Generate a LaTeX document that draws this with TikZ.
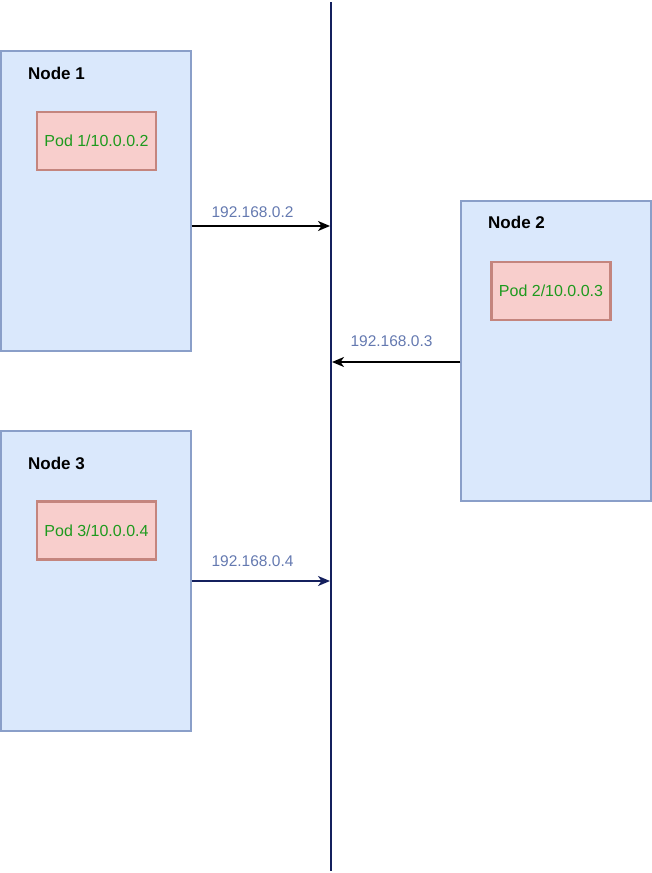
\documentclass[tikz,border=0pt]{standalone}
\usepackage{fontspec}
\setmainfont{Liberation Sans}
\usetikzlibrary{arrows.meta}
\definecolor{nodefill}{HTML}{DAE8FC}
\definecolor{nodeline}{HTML}{8A9FC9}
\definecolor{podfill}{HTML}{F8CECC}
\definecolor{podline}{HTML}{C4857E}
\definecolor{podtext}{HTML}{1E9A1E}
\definecolor{iptext}{HTML}{6479B0}
\definecolor{busline}{HTML}{14205E}

\tikzset{
  hostbox/.style={draw=nodeline,fill=nodefill,line width=1.3pt,minimum width=190pt,minimum height=300pt,inner sep=0pt},
  podbox/.style={draw=podline,fill=podfill,line width=2.7pt,minimum width=119pt,minimum height=58pt,inner sep=0pt,
    text=podtext,font=\fontsize{16}{19}\selectfont},
  hostlabel/.style={anchor=west,inner sep=0pt,font=\fontsize{17}{20}\selectfont\bfseries},
  iplabel/.style={text=iptext,inner sep=0pt,font=\fontsize{15.5}{18}\selectfont},
  link/.style={line width=1.7pt,-{Stealth[length=12pt,width=10pt,inset=3.5pt]}}
}

\begin{document}
\begin{tikzpicture}[x=1pt,y=-1pt]

\useasboundingbox (0,0) rectangle (652,873);

\node[hostbox] (node1) at (96,201) {};
\node[hostbox] (node2) at (556,351) {};
\node[hostbox] (node3) at (96,581) {};

\node[hostlabel] (lab1) at (28,73) {Node 1};
\node[hostlabel] (lab2) at (488,222) {Node 2};
\node[hostlabel] (lab3) at (28,463) {Node 3};

\node[podbox] (pod1) at (96.5,141) {Pod 1/10.0.0.2};
\node[podbox] (pod2) at (551,291) {Pod 2/10.0.0.3};
\node[podbox] (pod3) at (96.5,530.5) {Pod 3/10.0.0.4};

\coordinate (bustop) at (331,2);
\coordinate (busbot) at (331,871);
\draw[busline,line width=2pt] (bustop) -- (busbot);

\coordinate (bus1) at (330,226);
\coordinate (bus2) at (332,362);
\coordinate (bus3) at (330,581);

\draw[link,black] (node1.east |- bus1) -- (bus1);
\draw[link,black] (node2.west |- bus2) -- (bus2);
\draw[link,busline] (node3.east |- bus3) -- (bus3);

\node[iplabel] (ip1) at (252.5,212) {192.168.0.2};
\node[iplabel] (ip2) at (391.5,341) {192.168.0.3};
\node[iplabel] (ip3) at (252.5,561) {192.168.0.4};

\end{tikzpicture}
\end{document}
